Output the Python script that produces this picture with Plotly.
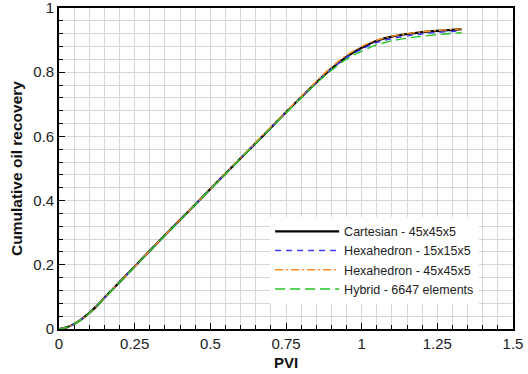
import plotly.graph_objects as go

pvi = [0, 0.025, 0.05, 0.075, 0.1, 0.125, 0.15, 0.2, 0.25, 0.3, 0.35, 0.4, 0.45, 0.5,
       0.55, 0.6, 0.65, 0.7, 0.75, 0.8, 0.85, 0.9, 0.95, 1.0, 1.05, 1.1, 1.15, 1.2,
       1.25, 1.3, 1.33]

cartesian = [0, 0.005, 0.016, 0.031, 0.05, 0.072, 0.097, 0.146, 0.195, 0.244, 0.292,
             0.340, 0.388, 0.436, 0.484, 0.532, 0.579, 0.627, 0.675, 0.722, 0.768,
             0.811, 0.848, 0.876, 0.898, 0.911, 0.919, 0.925, 0.929, 0.932, 0.934]

hexa15 = [0, 0.005, 0.016, 0.031, 0.05, 0.072, 0.097, 0.146, 0.195, 0.244, 0.292,
          0.340, 0.388, 0.436, 0.484, 0.532, 0.579, 0.627, 0.675, 0.722, 0.768,
          0.810, 0.846, 0.872, 0.892, 0.905, 0.913, 0.919, 0.924, 0.927, 0.929]

hexa45 = [0, 0.005, 0.016, 0.031, 0.05, 0.072, 0.097, 0.146, 0.195, 0.244, 0.292,
          0.340, 0.388, 0.436, 0.485, 0.533, 0.581, 0.629, 0.677, 0.725, 0.772,
          0.816, 0.853, 0.880, 0.900, 0.912, 0.920, 0.926, 0.930, 0.933, 0.935]

hybrid = [0, 0.005, 0.015, 0.030, 0.049, 0.071, 0.096, 0.145, 0.194, 0.243, 0.291,
          0.339, 0.387, 0.435, 0.483, 0.531, 0.578, 0.626, 0.673, 0.720, 0.765,
          0.806, 0.841, 0.866, 0.885, 0.898, 0.906, 0.912, 0.917, 0.921, 0.923]

series_names = ["Cartesian - 45x45x5", "Hexahedron - 15x15x5",
                "Hexahedron - 45x45x5", "Hybrid - 6647 elements"]

x_ticks = [0, 0.25, 0.5, 0.75, 1, 1.25, 1.5]
x_labels = ["0", "0.25", "0.5", "0.75", "1", "1.25", "1.5"]
y_ticks = [0, 0.2, 0.4, 0.6, 0.8, 1]
y_labels = ["0", "0.2", "0.4", "0.6", "0.8", "1"]

fig = go.Figure()
styles = [
    dict(color="black", width=2.2, dash="solid"),
    dict(color="#3a3aff", width=1.4, dash="6px,5px"),
    dict(color="#ff8c1a", width=1.4, dash="8px,3px,2px,3px"),
    dict(color="#22c322", width=1.4, dash="10px,5px"),
]
for name, ys, st in zip(series_names, [cartesian, hexa15, hexa45, hybrid], styles):
    fig.add_trace(go.Scatter(x=pvi, y=ys, mode="lines", name=name,
                             line=dict(shape="spline", smoothing=0.8, **st)))

font = "Liberation Sans, Arial, sans-serif"
axis_common = dict(
    showline=True, linecolor="black", linewidth=1.6, mirror=True,
    ticks="inside", ticklen=6, tickwidth=1.3, tickcolor="black",
    showgrid=True, gridcolor="#d8d8d8", gridwidth=1, zeroline=False,
    automargin=False, ticklabeloverflow="allow",
    tickfont=dict(family=font, size=15, color="#222"),
)
fig.update_xaxes(
    range=[0, 1.5], tickvals=x_ticks, ticktext=x_labels,
    title=dict(text="<b>PVI</b>", font=dict(family=font, size=15, color="#111"), standoff=7),
    minor=dict(dtick=0.05, tick0=0, ticks="inside", ticklen=4, tickcolor="black",
               showgrid=True, gridcolor="#d8d8d8", gridwidth=1),
    **axis_common)
fig.update_yaxes(
    range=[0, 1], tickvals=y_ticks, ticktext=y_labels,
    title=dict(text="<b>Cumulative oil recovery</b>", font=dict(family=font, size=15.5, color="#111"), standoff=7),
    minor=dict(dtick=0.04, tick0=0, ticks="inside", ticklen=4, tickcolor="black",
               showgrid=True, gridcolor="#d8d8d8", gridwidth=1),
    **axis_common)

fig.update_layout(
    width=528, height=374,
    margin=dict(l=59, r=15, t=8, b=45),
    paper_bgcolor="white", plot_bgcolor="white",
    showlegend=True,
    legend=dict(x=0.465, y=0.35, xanchor="left", yanchor="top",
                bgcolor="white", borderwidth=0, itemwidth=64,
                font=dict(family=font, size=12.5, color="#222"),
                tracegroupgap=0),
)

fig.write_html("out.html")
